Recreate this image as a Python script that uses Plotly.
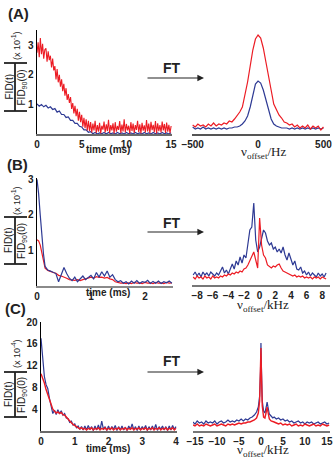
import numpy as np
import plotly.graph_objects as go

W, H = 334, 459
RED = '#ec1c24'
BLUE = '#2e3a94'

# ---------------- Panel A ----------------
a_red_step = 0.125
a_fid_red = [2.75, 3.10, 2.60, 3.25, 2.70, 3.05, 2.55, 2.85,
             2.90, 2.45, 2.80, 2.50, 2.65, 2.25, 2.55, 2.15,
             2.30, 1.85, 2.20, 1.75, 2.00, 1.60, 1.85, 1.45,
             1.70, 1.30, 1.55, 1.15, 1.35, 1.05, 1.25, 0.85,
             1.05, 0.70, 0.95, 0.60, 0.85, 0.45, 0.75, 0.40,
             0.65, 0.25, 0.55, 0.20, 0.50, 0.12, 0.45, 0.10,
             0.40, 0.05, 0.35, 0.12, 0.45, 0.04, 0.30, 0.08,
             0.38, 0.02, 0.28, 0.15, 0.42, 0.05, 0.33, 0.10,
             0.48, 0.03, 0.30, 0.12, 0.36, 0.02, 0.40, 0.08,
             0.27, 0.14, 0.44, 0.03, 0.32, 0.09, 0.50, 0.05,
             0.34, 0.12, 0.28, 0.02, 0.40, 0.10, 0.35, 0.04,
             0.30, 0.14, 0.45, 0.06, 0.33, 0.02, 0.38, 0.11,
             0.29, 0.05, 0.47, 0.09, 0.35, 0.03, 0.41, 0.13,
             0.31, 0.06, 0.44, 0.02, 0.36, 0.10, 0.30, 0.05,
             0.42, 0.12, 0.34, 0.04, 0.39, 0.08, 0.31, 0.03,
             0.27]
a_time_red = [i * a_red_step for i in range(len(a_fid_red))]

a_blue_step = 0.25
a_fid_blue = [1.02, 0.94, 1.00, 0.92, 0.97, 0.88, 0.92, 0.83,
              0.86, 0.74, 0.78, 0.66, 0.66, 0.56, 0.58, 0.46,
              0.46, 0.36, 0.36, 0.26, 0.24, 0.14, 0.14, 0.06,
              0.08, 0.01, 0.05, 0.00, 0.04, 0.01, 0.05, 0.00,
              0.05, 0.01, 0.04, 0.00, 0.05, 0.01, 0.04, 0.00,
              0.05, 0.01, 0.04, 0.00, 0.05, 0.01, 0.04, 0.00,
              0.05, 0.01, 0.04, 0.00, 0.05, 0.01, 0.04, 0.00,
              0.05, 0.01, 0.04, 0.00, 0.04]
a_time_blue = [i * a_blue_step for i in range(len(a_fid_blue))]

a_freq = list(range(-500, 501, 20))
a_spec_red = [9, 7, 10, 8, 9, 7, 10, 8, 11, 8,
              10, 9, 11, 10, 13, 12, 15, 18, 22, 27,
              38, 52, 68, 84, 95, 99, 96, 86, 72, 56,
              44, 30, 24, 19, 16, 12, 11, 9, 10, 7,
              9, 6, 8, 6, 9, 5, 8, 6, 8, 4, 7]
a_spec_blue = [7, 5, 6, 5, 7, 5, 6, 5, 6, 5,
               6, 5, 6, 5, 6, 6, 7, 7, 8, 10,
               13, 18, 27, 40, 50, 53, 51, 44, 35, 24,
               15, 10, 8, 7, 6, 6, 6, 5, 6, 5,
               6, 5, 6, 5, 6, 5, 6, 5, 6, 5, 6]

# ---------------- Panel B ----------------
b_time = [0, 0.03, 0.06, 0.09, 0.12, 0.15] + [round(0.20 + 0.05 * i, 2) for i in range(47)]
b_fid_blue = [3.0, 2.6, 2.0, 1.4, 0.9, 0.55,
              0.45, 0.42, 0.38, 0.35, 0.12, 0.30, 0.52, 0.35, 0.22, 0.15,
              0.25, 0.12, 0.20, 0.28, 0.18, 0.25, 0.30, 0.20, 0.38, 0.25,
              0.40, 0.28, 0.42, 0.25, 0.32, 0.18, 0.12, 0.15, 0.08, 0.12,
              0.06, 0.14, 0.08, 0.15, 0.07, 0.12, 0.10, 0.16, 0.07, 0.13,
              0.08, 0.14, 0.07, 0.12, 0.09, 0.14, 0.08]
b_fid_red = [1.30, 1.27, 1.15, 0.95, 0.70, 0.50,
             0.44, 0.40, 0.38, 0.36, 0.30, 0.28, 0.26, 0.22, 0.18, 0.17,
             0.16, 0.18, 0.15, 0.18, 0.20, 0.23, 0.25, 0.22, 0.26, 0.24,
             0.25, 0.22, 0.24, 0.20, 0.18, 0.12, 0.10, 0.08, 0.09, 0.07,
             0.09, 0.07, 0.10, 0.08, 0.09, 0.07, 0.10, 0.08, 0.09, 0.07,
             0.10, 0.08, 0.09, 0.07, 0.10, 0.08, 0.09]

b_spec_blue = [10, 13, 9, 12, 8, 13, 10, 12, 9, 13,
               11, 9, 12, 10, 14, 18, 12, 15, 11, 17,
               21, 16, 24, 20, 28, 22, 30, 27, 40, 55,
               58, 82, 45, 33, 38, 48, 55, 52, 44, 40,
               42, 36, 38, 33, 36, 32, 38, 30, 25, 32,
               27, 20, 24, 16, 15, 18, 12, 14, 10, 13,
               9, 12, 10, 8, 12, 9, 11, 8, 12]
b_spec_red = [8, 6, 9, 7, 8, 6, 9, 7, 8, 6,
              9, 7, 8, 7, 9, 8, 10, 9, 11, 10,
              12, 11, 13, 12, 14, 13, 16, 17, 20, 24,
              28, 33, 25, 17, 67, 40, 30, 27, 20, 18,
              17, 19, 18, 20, 21, 17, 14, 13, 12, 11,
              10, 9, 10, 8, 9, 8, 9, 7, 8, 7,
              8, 6, 8, 7, 8, 6, 8, 7, 6]
b_freq = [round(-8.5 + 0.25 * i, 2) for i in range(len(b_spec_blue))]

# ---------------- Panel C ----------------
c_time_step = 0.05
c_fid_blue = [17.0, 12.5, 10.0, 8.5, 7.8, 6.0, 4.8, 3.2, 3.8, 3.0,
              3.9, 3.2, 3.7, 2.9, 3.2, 2.4, 2.3, 1.6, 1.8, 1.1,
              1.3, 0.6, 0.9, 0.3, 0.8, 0.2, 0.9, 0.2, 1.0, 0.3,
              0.8, 0.1, 0.9, 0.2, 1.1, 0.2, 1.8, 0.3, 0.8, 0.1,
              0.9, 0.2, 0.8, 0.3, 1.0, 0.1, 0.8, 0.2, 0.9, 0.2,
              0.7, 0.1, 0.9, 0.3, 1.3, 0.2, 0.8, 0.1, 0.9, 0.2,
              0.8, 0.3, 1.0, 0.1, 0.8, 0.2, 0.9, 0.2, 1.2, 0.1,
              0.8, 0.3, 0.9, 0.2, 0.8, 0.1, 0.9, 0.2, 1.0, 0.3,
              0.8]
c_fid_red = [10.5, 9.8, 8.8, 7.6, 6.8, 5.8, 4.9, 4.0, 3.6, 3.3,
             3.5, 3.2, 3.4, 3.0, 2.9, 2.5, 2.2, 1.8, 1.5, 1.2,
             1.0, 0.7, 0.6, 0.4, 0.6, 0.3, 0.5, 0.2, 0.5, 0.3,
             0.6, 0.2, 0.5, 0.3, 0.6, 0.2, 0.5, 0.3, 0.6, 0.2,
             0.5, 0.3, 0.6, 0.2, 0.5, 0.3, 0.6, 0.2, 0.5, 0.3,
             0.6, 0.2, 0.5, 0.3, 0.6, 0.2, 0.5, 0.3, 0.6, 0.2,
             0.5, 0.3, 0.6, 0.2, 0.5, 0.3, 0.6, 0.2, 0.5, 0.3,
             0.6, 0.2, 0.5, 0.3, 0.6, 0.2, 0.5, 0.3, 0.6, 0.2,
             0.5]
c_time = [round(i * c_time_step, 2) for i in range(len(c_fid_blue))]

c_freq = ([round(-15.5 + 0.5 * i, 2) for i in range(27)]
          + [-2.0, -1.5, -1.0, -0.6, -0.3, -0.1, 0.0, 0.1, 0.3, 0.6, 0.9, 1.2, 1.4, 1.6, 1.9, 2.3, 2.7]
          + [round(3.0 + 0.5 * i, 2) for i in range(26)])
c_spec_blue = ([9, 7, 10, 8, 9, 7, 10, 8, 9, 8, 10, 7, 9, 10, 8, 9, 11, 9, 10, 9, 11, 10, 12, 10, 12, 11, 13]
               + [14, 16, 19, 24, 35, 60, 88, 65, 30, 20, 18, 24, 29, 24, 17, 15, 13]
               + [14, 12, 13, 11, 12, 10, 11, 9, 10, 8, 9, 10, 8, 9, 7, 9, 8, 9, 7, 8, 9, 7, 8, 9, 7, 8])
c_spec_red = ([6, 5, 7, 5, 6, 5, 7, 6, 5, 6, 7, 5, 6, 7, 6, 5, 7, 6, 7, 6, 7, 8, 7, 8, 8, 9, 9]
              + [10, 11, 13, 18, 30, 55, 83, 60, 25, 14, 13, 19, 24, 19, 12, 10, 9]
              + [9, 8, 7, 8, 6, 7, 6, 7, 5, 6, 7, 5, 6, 5, 7, 6, 5, 6, 7, 5, 6, 5, 7, 6, 5, 6])

a_fid_ticks = [1, 2, 3]
b_fid_ticks = [1, 2, 3]
c_fid_ticks = [4, 8, 12, 16, 20]


def px_x(p):
    return p / W


def px_y(p):
    return 1 - p / H


TF = dict(family='Liberation Sans', size=10, color='#222', weight='bold')

fig = go.Figure()


def line(x, y, color, ax, width=1.2):
    xa = 'x' if ax == 1 else f'x{ax}'
    ya = 'y' if ax == 1 else f'y{ax}'
    fig.add_trace(go.Scatter(x=x, y=y, mode='lines', xaxis=xa, yaxis=ya,
                             line=dict(color=color, width=width), showlegend=False,
                             hoverinfo='skip'))


# A
line(a_time_blue, a_fid_blue, BLUE, 1)
line(a_time_red, a_fid_red, RED, 1, 1.1)
line(a_freq, a_spec_blue, BLUE, 2)
line(a_freq, a_spec_red, RED, 2)
# B
line(b_time, b_fid_red, RED, 3)
line(b_time, b_fid_blue, BLUE, 3)
line(b_freq, b_spec_blue, BLUE, 4)
line(b_freq, b_spec_red, RED, 4)
# C
line(c_time, c_fid_blue, BLUE, 5)
line(c_time, c_fid_red, RED, 5, 1.4)
line(c_freq, c_spec_blue, BLUE, 6)
line(c_freq, c_spec_red, RED, 6, 1.4)


def xaxis(dom, rng, ticks, anchor, color='#6a6a6a'):
    return dict(domain=[px_x(dom[0]), px_x(dom[1])], range=rng, anchor=anchor,
                showline=True, linecolor=color, linewidth=1.5, showgrid=False,
                zeroline=False, tickvals=ticks, ticks='', tickfont=TF, fixedrange=True,
                automargin=False)


def yaxis_left(dom, rng, ticks, anchor):
    return dict(domain=[px_y(dom[1]), px_y(dom[0])], range=rng, anchor=anchor,
                showline=True, linecolor='black', linewidth=1.5, showgrid=False,
                zeroline=False, tickvals=ticks, ticks='', tickfont=TF, fixedrange=True,
                automargin=False)


def yaxis_hidden(dom, rng, anchor):
    return dict(domain=[px_y(dom[1]), px_y(dom[0])], range=rng, anchor=anchor,
                visible=False, fixedrange=True, automargin=False)


fig.update_layout(
    template='none',
    width=W, height=H, autosize=False,
    margin=dict(l=0, r=0, t=0, b=0, pad=0),
    paper_bgcolor='white', plot_bgcolor='rgba(0,0,0,0)',
    xaxis=xaxis((37, 172), [0, 15.1], [0, 5, 10, 15], 'y'),
    yaxis=yaxis_left((30, 134), [0, 3.52], a_fid_ticks, 'x'),
    xaxis2=xaxis((192, 330), [-505, 550], [-500, 0, 500], 'y2', '#555'),
    yaxis2=yaxis_hidden((30, 134), [0, 104], 'x2'),
    xaxis3=xaxis((37, 173), [0, 2.52], [0, 1, 2], 'y3', '#8a8a8a'),
    yaxis3=yaxis_left((178, 286), [0, 3.04], b_fid_ticks, 'x3'),
    xaxis4=xaxis((192, 330), [-8.65, 9.0], [-8, -6, -4, -2, 0, 2, 4, 6, 8], 'y4', '#777'),
    yaxis4=yaxis_hidden((178, 285), [0, 107], 'x4'),
    xaxis5=xaxis((41, 177), [0, 4.03], [0, 1, 2, 3, 4], 'y5'),
    yaxis5=yaxis_left((322, 431), [0, 20.0], c_fid_ticks, 'x5'),
    xaxis6=xaxis((193, 330), [-15.45, 15.7], [-15, -10, -5, 0, 5, 10, 15], 'y6', '#777'),
    yaxis6=yaxis_hidden((323, 431), [0, 108], 'x6'),
)

ann = []
shapes = []


def text(x, y, s, size=10, family='Liberation Sans', weight='normal', angle=0, color='#222'):
    ann.append(dict(x=px_x(x), y=px_y(y), xref='paper', yref='paper', text=s,
                    showarrow=False, xanchor='center', yanchor='middle', textangle=angle,
                    font=dict(family=family, size=size, color=color, weight=weight)))


def seg(x0, y0, x1, y1, w=1.8, color='#222'):
    shapes.append(dict(type='line', xref='paper', yref='paper',
                       x0=px_x(x0), y0=px_y(y0), x1=px_x(x1), y1=px_y(y1),
                       line=dict(color=color, width=w)))


def arrow(x0, x1, y):
    ann.append(dict(x=px_x(x1), y=px_y(y), xref='paper', yref='paper', text='',
                    showarrow=True, ax=-(x1 - x0), ay=0, axref='pixel', ayref='pixel',
                    arrowhead=2, arrowsize=1.1, arrowwidth=1.2, arrowcolor='#222'))


panels = [
    ('(A)', 18, 14, 46, 63, 111, '(x 10<sup>-1</sup>)', 68, 78, 149, 153),
    ('(B)', 17, 164, 201, 217, 264, '(x 10<sup>-1</sup>)', 223, 232, 292, 305),
    ('(C)', 15, 308, 354, 372, 417, '(x 10<sup>-4</sup>)', 361, 372, 448, 450),
]
nu_units = ['Hz', 'kHz', 'kHz']
for i, (lab, lx, ly, my, b0, b1, mult, fty, ary, ty, nuy) in enumerate(panels):
    text(lx, ly, lab, size=15, weight='bold')
    text(16, my, mult, size=9, angle=-90)
    mid = (b0 + b1) / 2
    text(8.5, mid, 'FID(t)', size=10, angle=-90)
    text(21.5, mid, 'FID<sub>90</sub>(0)', size=10, angle=-90)
    seg(4, b0, 27, b0)
    seg(4, b1, 27, b1)
    seg(15, b0, 15, b1)
    text(172, fty, 'FT', size=14, weight='bold')
    arrow(146, 204, ary)
    text(108, ty, 'time (ms)', size=10, weight='bold')
    text(263, nuy, 'ν<sub>offset</sub>/' + nu_units[i], size=13, family='Liberation Serif')

fig.update_layout(annotations=ann, shapes=shapes)
fig.write_html('out.html',
               config={'displayModeBar': False, 'staticPlot': True},
               post_script="document.body.style.margin='0px';document.body.style.padding='0px';"
                           "document.documentElement.style.overflow='hidden';")
